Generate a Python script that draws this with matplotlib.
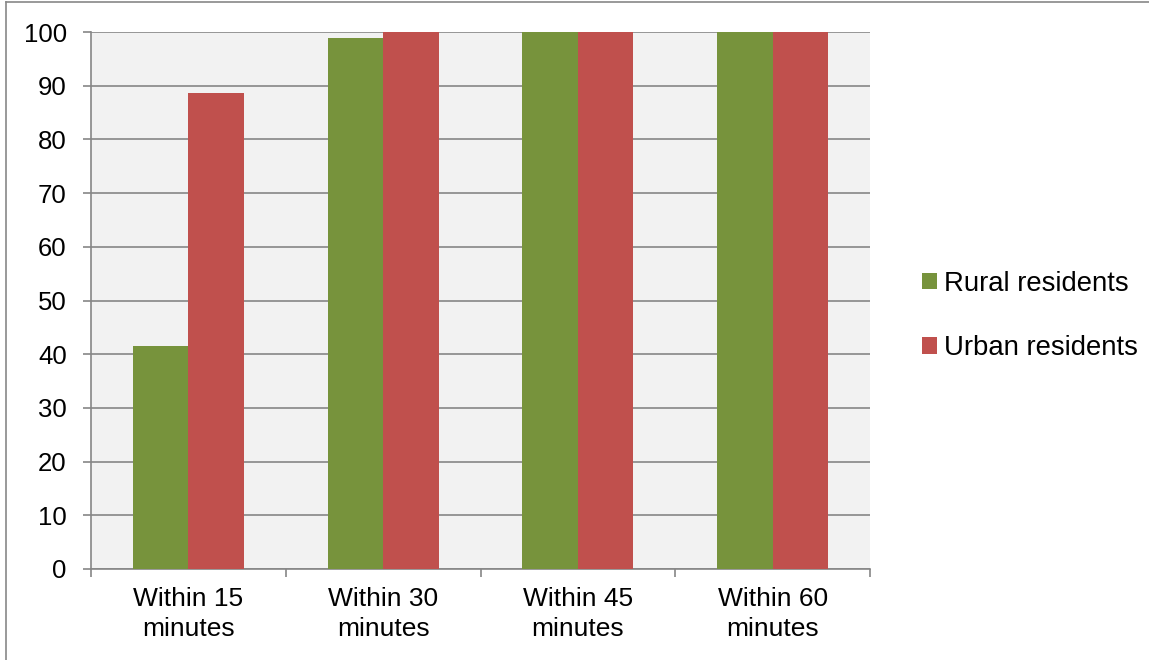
import matplotlib
matplotlib.use("Agg")
import matplotlib.pyplot as plt
import numpy as np
from matplotlib.lines import Line2D
from matplotlib.patches import Patch

categories = ["Within 15\nminutes", "Within 30\nminutes", "Within 45\nminutes", "Within 60\nminutes"]
rural = [41.5, 98.9, 100, 100]
urban = [88.6, 100, 100, 100]
series_names = ["Rural residents", "Urban residents"]
colors = ["#77933C", "#C0504D"]

plt.rcParams['font.family'] = ['Liberation Sans', 'DejaVu Sans']

fig = plt.figure(figsize=(11.49, 6.6), dpi=100)
ax = fig.add_axes([91/1149, 1-569/660, (870-91)/1149, (569-32)/660])
ax.set_facecolor("#F2F2F2")

x = np.arange(len(categories))
w = 0.285
ax.bar(x - w/2, rural, width=w, color=colors[0], zorder=3)
ax.bar(x + w/2, urban, width=w, color=colors[1], zorder=3)

ax.set_xlim(-0.5, len(categories) - 0.5)
ax.set_ylim(0, 100)
ax.set_yticks(np.arange(0, 101, 10))
ax.yaxis.grid(True, color="#868686", linewidth=1.2, zorder=1)
ax.set_axisbelow(True)

ax.set_xticks(x)
ax.set_xticklabels(categories, fontsize=19, linespacing=1.3)
ax.set_xticks(np.arange(-0.5, len(categories), 1), minor=True)
ax.tick_params(axis='x', which='major', length=0, pad=13)
ax.tick_params(axis='x', which='minor', length=6, color="#868686", width=1.2, direction='out')
ax.tick_params(axis='y', length=6, color="#868686", width=1.2, direction='out', labelsize=18.5, pad=11.5)

for s in ['top', 'right']:
    ax.spines[s].set_visible(False)
for s in ['left', 'bottom']:
    ax.spines[s].set_color("#868686")
    ax.spines[s].set_linewidth(1.2)

handles = [Patch(facecolor=c, edgecolor='none') for c in colors]
leg = fig.legend(handles, series_names, loc='center left',
                 bbox_to_anchor=(897/1149, 1-316/660), frameon=False,
                 fontsize=19.8, handlelength=0.55, handleheight=0.55,
                 handletextpad=0.27, labelspacing=1.4)

# outer frame
fig.add_artist(Line2D([6/1149, 1.0], [1-2/660, 1-2/660], color="#888888", linewidth=1.2, transform=fig.transFigure))
fig.add_artist(Line2D([6/1149, 6/1149], [0, 1-2/660], color="#888888", linewidth=1.2, transform=fig.transFigure))

fig.savefig("out.png", dpi=100)
